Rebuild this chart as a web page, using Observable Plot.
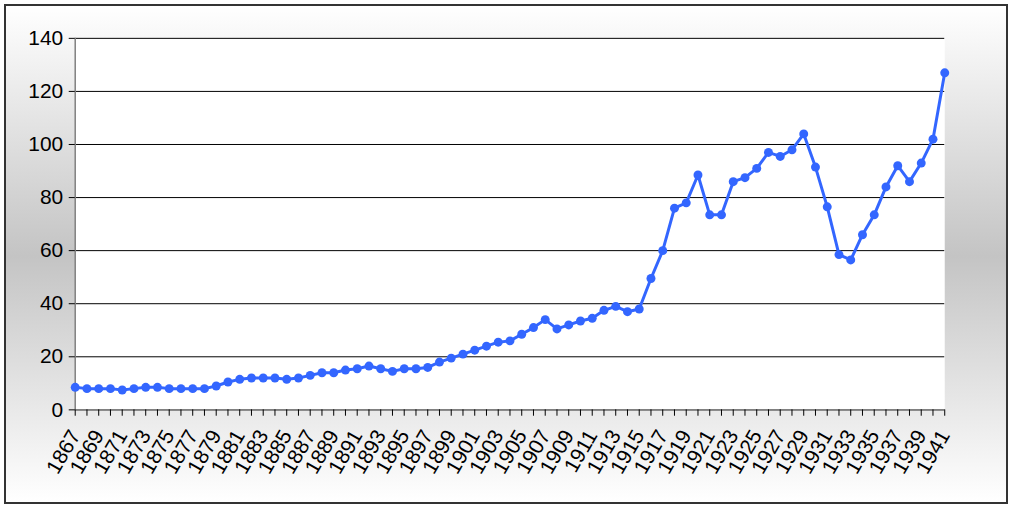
<!DOCTYPE html>
<html><head><meta charset="utf-8">
<script src="https://cdn.jsdelivr.net/npm/d3@7"></script>
<script src="https://cdn.jsdelivr.net/npm/@observablehq/plot@0.6"></script>
<style>
body{margin:0;background:#fff;}
#frame{position:absolute;left:4px;top:4px;width:1000px;height:496px;border:2px solid #333;
background:linear-gradient(to bottom,#fff 0px,#c4c4c4 250px,#fff 496px);overflow:hidden;}
#chart{position:absolute;left:-6px;top:-6px;}
#chart svg text{font-size:21px;font-family:"Liberation Sans",Arial,sans-serif;fill:#000;}
</style></head><body>
<div id="frame"><div id="chart"></div></div>
<script>
const years = d3.range(1867, 1942);
const values = [8.5,8,8,8,7.5,8,8.5,8.5,8,8,8,8,9,10.5,11.5,12,12,12,11.5,12,13,14,14,15,15.5,16.5,15.5,14.5,15.5,15.5,16,18,19.5,21,22.5,24,25.5,26,28.5,31,34,30.5,32,33.5,34.5,37.5,39,37,38,49.5,60,76,78,88.5,73.5,73.5,86,87.5,91,97,95.5,98,104,91.5,76.5,58.5,56.5,66,73.5,84,92,86,93,102,127];
const yTicks = [0,20,40,60,80,100,120,140];
const xTicks = d3.range(1867,1942,2);
const data = years.map((y,i)=>({year:y,value:values[i]}));
const chart = Plot.plot({
  width:1010, height:506,
  marginLeft:75, marginRight:62, marginTop:38, marginBottom:95,
  style:{background:"transparent",fontFamily:"Liberation Sans, Arial, sans-serif",color:"#000"},
  x:{domain:[1867,1941], label:null},
  y:{domain:[0,140], label:null},
  marks:[
    Plot.frame({fill:"#fff",stroke:null}),
    Plot.ruleY(yTicks,{stroke:"#000",strokeWidth:1}),
    Plot.ruleY([0],{stroke:"#808080",strokeWidth:1.5}),
    Plot.ruleX([1867],{stroke:"#808080",strokeWidth:1.5}),
    Plot.ruleX(years,{x:d=>d,y1:0,y2:-2.4,stroke:"#000"}),
    Plot.axisY({ticks:yTicks,tickSize:6,tickPadding:6}),
    Plot.axisX({ticks:xTicks,tickFormat:d=>String(d),tickRotate:-60,tickSize:0,tickPadding:8,dy:14}),
    Plot.line(data,{x:"year",y:"value",stroke:"#3366ff",strokeWidth:3}),
    Plot.dot(data,{x:"year",y:"value",fill:"#3366ff",r:4.5})
  ]
});
document.getElementById("chart").appendChild(chart);
</script></body></html>
